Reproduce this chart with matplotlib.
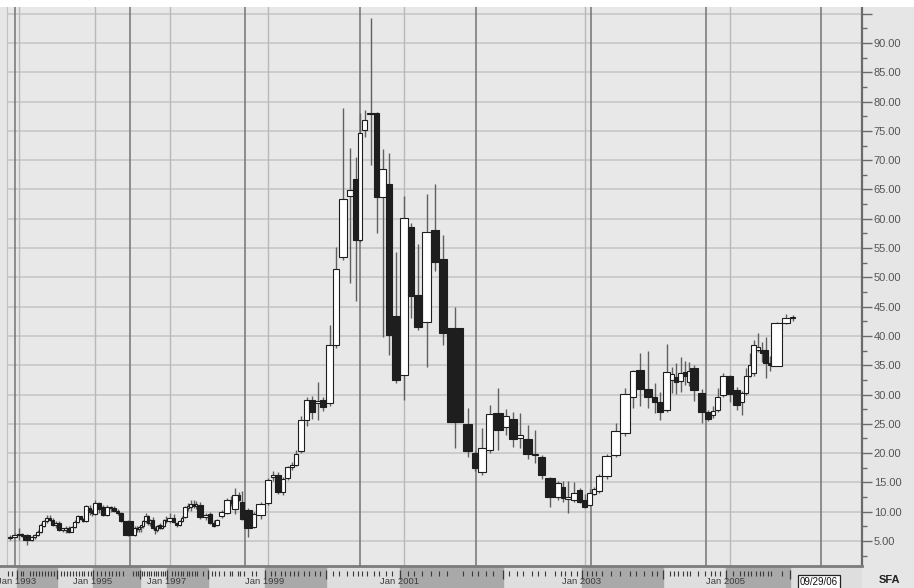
import numpy as np
import pandas as pd
import matplotlib
matplotlib.use("Agg")
import matplotlib.pyplot as plt
from matplotlib.patches import Rectangle
from matplotlib.ticker import MultipleLocator, FuncFormatter

plt.rcParams['font.family'] = ['Liberation Sans', 'DejaVu Sans']

# ---------------------------
# monthly candles Nov 1992 .. Jan 2006 (candle width = volume)
# ---------------------------
opens = [
    5.5, 5.7,
    6.0, 6.0, 6.0, 5.2, 5.7, 6.0, 6.6, 7.6, 8.4, 9.0, 8.6, 7.8,
    8.1, 6.9, 6.9, 7.2, 6.6, 7.4, 8.3, 9.2, 8.8, 8.4, 10.6, 10.0,
    9.6, 11.4, 10.8, 9.4, 10.8, 10.7, 10.2, 9.8, 8.4, 6.0, 7.3, 7.0,
    7.4, 7.6, 8.4, 9.2, 8.0, 8.6, 7.3, 6.8, 7.7, 7.3, 7.6, 8.6,
    8.4, 9.0, 8.0, 7.7, 8.4, 9.1, 10.7, 10.8, 11.3, 11.0, 11.2, 9.1,
    9.6, 8.1, 7.8, 9.2, 9.8, 12.0, 10.5, 12.9, 11.6, 10.3, 7.4, 9.4,
    11.5, 16.0, 16.3, 13.4, 15.7, 17.6, 18.0, 20.4, 25.6, 29.0, 28.6, 29.0,
    28.5, 38.4, 53.5, 63.9, 66.8, 56.4, 75.1, 77.8, 78.0, 63.7, 65.9, 43.4,
    33.3, 58.6, 47.0, 42.4, 58.1, 53.1, 41.3, 25.0, 20.0, 16.8, 20.5, 26.8,
    24.5, 25.8, 22.6, 22.4, 19.6, 19.3, 15.8, 12.5, 14.2, 12.2, 12.0, 13.7,
    12.0, 11.1, 13.0, 13.5, 16.1, 19.7, 23.4, 29.6, 34.2, 30.9, 29.6, 28.7,
    27.4, 32.5, 33.0, 32.3, 33.8, 32.2, 34.5, 30.3, 27.0, 26.5, 27.4, 29.9,
    33.2, 30.8, 28.8, 30.3, 33.2, 33.6, 37.6, 37.6, 37.6, 35.4, 34.9, 42.2,
    43.0,
]
highs = [
    6.0, 6.4,
    7.2, 6.4, 6.2, 5.9, 6.2, 6.8, 8.1, 8.6, 9.4, 9.4, 8.9, 8.4,
    8.4, 7.3, 7.6, 7.6, 7.6, 8.6, 9.4, 9.3, 9.0, 11.2, 11.2, 10.4,
    12.0, 11.6, 11.2, 11.2, 11.0, 11.0, 10.4, 10.0, 8.6, 7.6, 7.6, 7.6,
    7.8, 8.6, 9.8, 9.4, 8.8, 9.1, 7.6, 7.8, 8.0, 7.8, 8.8, 9.2,
    9.8, 9.6, 8.2, 8.6, 9.2, 11.0, 11.4, 12.0, 12.0, 11.8, 11.6, 9.8,
    9.9, 8.5, 8.7, 10.3, 12.4, 12.6, 14.0, 13.4, 13.6, 10.6, 9.9, 11.6,
    15.8, 17.0, 16.8, 16.0, 17.8, 18.4, 20.5, 26.4, 29.6, 29.8, 32.1, 29.6,
    41.9, 55.2, 78.9, 72.0, 70.5, 78.0, 78.5, 94.2, 78.2, 71.9, 71.2, 54.3,
    63.9, 59.3, 55.7, 64.2, 65.9, 57.2, 44.9, 27.7, 20.4, 24.3, 28.2, 31.1,
    27.5, 27.0, 26.8, 24.8, 24.0, 19.6, 16.0, 15.2, 15.2, 15.2, 15.0, 14.0,
    13.0, 13.8, 14.2, 16.5, 19.9, 25.2, 31.1, 34.2, 37.1, 37.4, 32.0, 30.5,
    38.6, 34.7, 35.4, 36.4, 35.8, 35.5, 35.0, 31.0, 27.4, 28.0, 31.1, 33.6,
    33.4, 31.3, 30.6, 34.5, 37.0, 39.3, 40.5, 39.0, 39.8, 36.5, 42.4, 43.7,
    43.6,
]
lows = [
    5.2, 5.5,
    5.2, 5.6, 4.3, 5.0, 5.4, 5.9, 6.4, 7.4, 8.1, 8.4, 7.6, 7.3,
    6.7, 6.5, 6.4, 6.3, 6.5, 7.2, 8.1, 8.6, 8.3, 8.3, 9.4, 9.2,
    9.4, 9.8, 9.2, 9.2, 10.0, 10.0, 9.4, 8.2, 5.8, 5.9, 6.6, 6.6,
    6.6, 7.2, 8.0, 7.8, 7.6, 7.0, 6.2, 6.6, 7.0, 7.1, 7.4, 8.0,
    8.0, 8.0, 7.4, 7.5, 8.2, 9.0, 10.2, 10.2, 10.6, 10.4, 8.8, 8.6,
    7.9, 7.4, 7.5, 8.9, 9.6, 11.0, 9.6, 11.8, 8.5, 5.7, 7.2, 8.8,
    11.2, 15.2, 13.0, 12.8, 15.4, 17.2, 17.8, 20.0, 24.6, 25.8, 25.6, 27.2,
    28.0, 38.0, 53.0, 49.0, 46.0, 56.0, 74.0, 69.2, 57.5, 39.9, 36.7, 32.0,
    29.0, 43.1, 41.0, 34.7, 51.0, 38.4, 20.9, 19.3, 16.9, 16.3, 20.0, 20.5,
    23.1, 21.0, 20.9, 19.0, 18.3, 15.5, 10.8, 12.0, 11.6, 9.8, 11.6, 11.4,
    10.6, 10.9, 12.8, 13.2, 15.6, 19.4, 22.9, 27.7, 28.0, 27.7, 26.8, 25.6,
    27.0, 30.3, 30.1, 30.5, 31.6, 31.5, 28.9, 25.1, 25.4, 26.0, 27.0, 29.5,
    28.8, 27.4, 26.5, 30.0, 33.0, 33.2, 37.2, 35.5, 32.8, 34.0, 34.8, 42.0,
    42.6,
]
closes = [
    5.7, 6.0,
    6.05, 5.9, 5.1, 5.7, 6.0, 6.6, 7.8, 8.4, 9.0, 8.6, 7.8, 8.1,
    6.9, 6.95, 7.2, 6.6, 7.4, 8.3, 9.2, 8.8, 8.4, 11.0, 10.0, 9.8,
    11.4, 10.4, 9.4, 10.8, 10.6, 10.2, 9.8, 8.4, 6.0, 7.3, 7.0, 7.4,
    7.6, 8.4, 9.2, 8.0, 8.6, 7.3, 6.8, 7.6, 7.3, 7.6, 8.6, 8.4,
    9.0, 8.2, 7.7, 8.4, 9.0, 10.8, 10.8, 11.3, 11.0, 11.2, 9.1, 9.4,
    8.1, 7.6, 8.5, 9.9, 12.0, 11.4, 12.9, 12.0, 8.7, 7.2, 9.6, 11.3,
    15.4, 16.1, 13.4, 15.5, 17.6, 18.0, 19.8, 25.6, 29.0, 27.0, 28.8, 27.9,
    38.4, 51.4, 63.4, 64.9, 56.4, 74.6, 76.8, 78.0, 63.7, 68.5, 40.2, 32.5,
    60.1, 46.8, 41.5, 57.7, 52.6, 40.5, 25.3, 20.4, 17.5, 20.9, 26.7, 23.9,
    26.3, 22.4, 23.1, 19.8, 19.8, 16.3, 12.5, 14.9, 12.3, 12.4, 13.2, 11.6,
    10.8, 13.2, 13.9, 16.1, 19.5, 23.8, 30.1, 34.0, 30.9, 29.6, 28.7, 27.0,
    33.8, 33.5, 32.1, 33.6, 33.2, 34.0, 30.8, 27.0, 25.8, 27.2, 29.6, 33.2,
    30.1, 28.2, 30.2, 33.2, 35.0, 38.4, 38.1, 37.0, 35.4, 35.0, 42.2, 43.0,
    43.05,
]
volume = [
    4, 5,
    4, 2, 7, 3, 3, 3, 3, 3, 3, 3, 3, 3,
    4, 3, 3, 3, 3, 3, 3, 3, 2, 4, 3, 2,
    4, 4, 4, 4, 3, 4, 3, 4, 10, 3, 2, 2,
    2, 2, 3, 2, 2, 3, 2, 2, 3, 2, 2, 2,
    5, 3, 3, 3, 2, 4, 2, 3, 3, 2, 6, 5,
    4, 3, 4, 5, 6, 2, 6, 2, 4, 8, 4, 9,
    6, 4, 6, 4, 5, 4, 4, 6, 5, 6, 5, 6,
    7, 6, 8, 6, 5, 4, 5, 7, 5, 7, 6, 8,
    8, 6, 8, 9, 8, 8, 16, 9, 6, 8, 7, 10,
    6, 8, 6, 9, 6, 7, 10, 6, 4, 6, 6, 5,
    5, 5, 4, 6, 9, 9, 10, 6, 8, 8, 5, 6,
    7, 4, 4, 5, 4, 3, 8, 7, 6, 4, 5, 6,
    7, 7, 4, 4, 3, 5, 4, 3, 5, 3, 11, 8,
    5,
]
months = pd.date_range("1992-11-01", periods=len(opens), freq="MS")
ticker = "SFA"
chart_date = "09/29/06"

o = np.array(opens)
h = np.array(highs)
l = np.array(lows)
c = np.array(closes)
vol = np.array(volume, dtype=float)
left = np.concatenate([[0.0], np.cumsum(vol)[:-1]])
mid = left + vol / 2
up = c >= o
body_lo = np.minimum(o, c)
body_h = np.maximum(np.abs(c - o), 0.25)

# ---------------------------
# figure / axes
# ---------------------------
W, H = 914, 588
fig = plt.figure(figsize=(W / 100, H / 100), dpi=100, facecolor='#e6e6e6')
fig.patches.append(Rectangle((0, 581 / H), 1, 7 / H, transform=fig.transFigure,
                             facecolor='white', edgecolor='none', zorder=0))

ax = fig.add_axes([7 / W, 22 / H, 855 / W, 559 / H])
ax.set_facecolor('#e8e8e8')
x_lo, x_hi = -1, vol.sum() + 67
ax.set_xlim(x_lo, x_hi)
ax.set_ylim(0.73, 96.14)

# horizontal grid
ax.yaxis.set_major_locator(MultipleLocator(5))
ax.yaxis.set_minor_locator(MultipleLocator(2.5))
ax.grid(axis='y', which='major', color='#c4c4c4', lw=1.1, zorder=0)
ax.set_axisbelow(True)

# dark evenly spaced verticals
for f in np.linspace(8 / 855, 814 / 855, 8):
    ax.axvline(x_lo + f * (x_hi - x_lo), color='#737373', lw=1.1, zorder=1)

# light verticals at January of odd years
jan_odd = [i for i, m in enumerate(months) if m.month == 1 and m.year % 2 == 1]
for i in jan_odd:
    ax.axvline(mid[i], color='#b8b8b8', lw=1.0, zorder=1)

# candles
ax.vlines(mid, l, h, color='#606060', lw=1.0, zorder=2)
ax.bar(mid[up], body_h[up], bottom=body_lo[up], width=vol[up] - 0.7,
       color='white', edgecolor='#1e1e1e', linewidth=0.8, zorder=3)
ax.bar(mid[~up], body_h[~up], bottom=body_lo[~up], width=vol[~up] - 0.7,
       color='#1e1e1e', edgecolor='#1e1e1e', linewidth=0.8, zorder=3)

# right price axis
ax.yaxis.tick_right()
ax.yaxis.set_major_formatter(FuncFormatter(lambda v, p: '' if v > 92 else f'{v:.2f}'))
ax.tick_params(axis='y', which='major', length=7, width=1, color='#6a6a6a',
               labelsize=8, labelcolor='#555555', pad=1.5)
ax.tick_params(axis='y', which='minor', length=3.5, width=1, color='#6a6a6a')
ax.tick_params(axis='x', bottom=False, labelbottom=False)
ax.spines['top'].set_visible(False)
ax.spines['bottom'].set_visible(False)
ax.spines['left'].set_color('#c0c0c0')
ax.spines['left'].set_linewidth(0.8)
ax.spines['right'].set_color('#6a6a6a')
ax.spines['right'].set_linewidth(1.6)

# ---------------------------
# bottom date strip
# ---------------------------
sx = fig.add_axes([0, 0, 862 / W, 22 / H])
sx.set_xlim(x_lo - 7, x_hi)
sx.set_ylim(0, 1)
sx.set_facecolor('#dedede')
for s in ['left', 'right', 'bottom']:
    sx.spines[s].set_visible(False)
sx.spines['top'].set_color('#7c7c7c')
sx.spines['top'].set_linewidth(2)
sx.set_xticks([])
sx.set_yticks([])

jan_idx = [i for i, m in enumerate(months) if m.month == 1]
for k, i in enumerate(jan_idx):
    end = left[jan_idx[k + 1]] if k + 1 < len(jan_idx) else x_hi
    if months[i].year % 2 == 1:
        sx.axvspan(left[i], end, color='#a9a9a9', zorder=0)

is_jan = np.array([m.month == 1 for m in months])
sx.vlines(left[~is_jan], 0.55, 0.78, color='#3a3a3a', lw=0.8)
sx.vlines(left[is_jan], 0.42, 0.84, color='#3a3a3a', lw=0.9)

for i in jan_odd:
    sx.text(left[i], 0.3, months[i].strftime('Jan %Y'), ha='center', va='center',
            fontsize=6.8, color='#3c3c3c', clip_on=False)
sx.text(x_hi - 43, 0.26, chart_date, ha='center', va='center', fontsize=7,
        color='#111111', zorder=5,
        bbox=dict(boxstyle='square,pad=0.2', facecolor='white', edgecolor='#222222', lw=0.9))

fig.text(889 / W, 8 / H, ticker, ha='center', va='center', fontsize=8,
         fontweight='bold', color='#222222')

fig.savefig('out.png', dpi=100, facecolor=fig.get_facecolor())
